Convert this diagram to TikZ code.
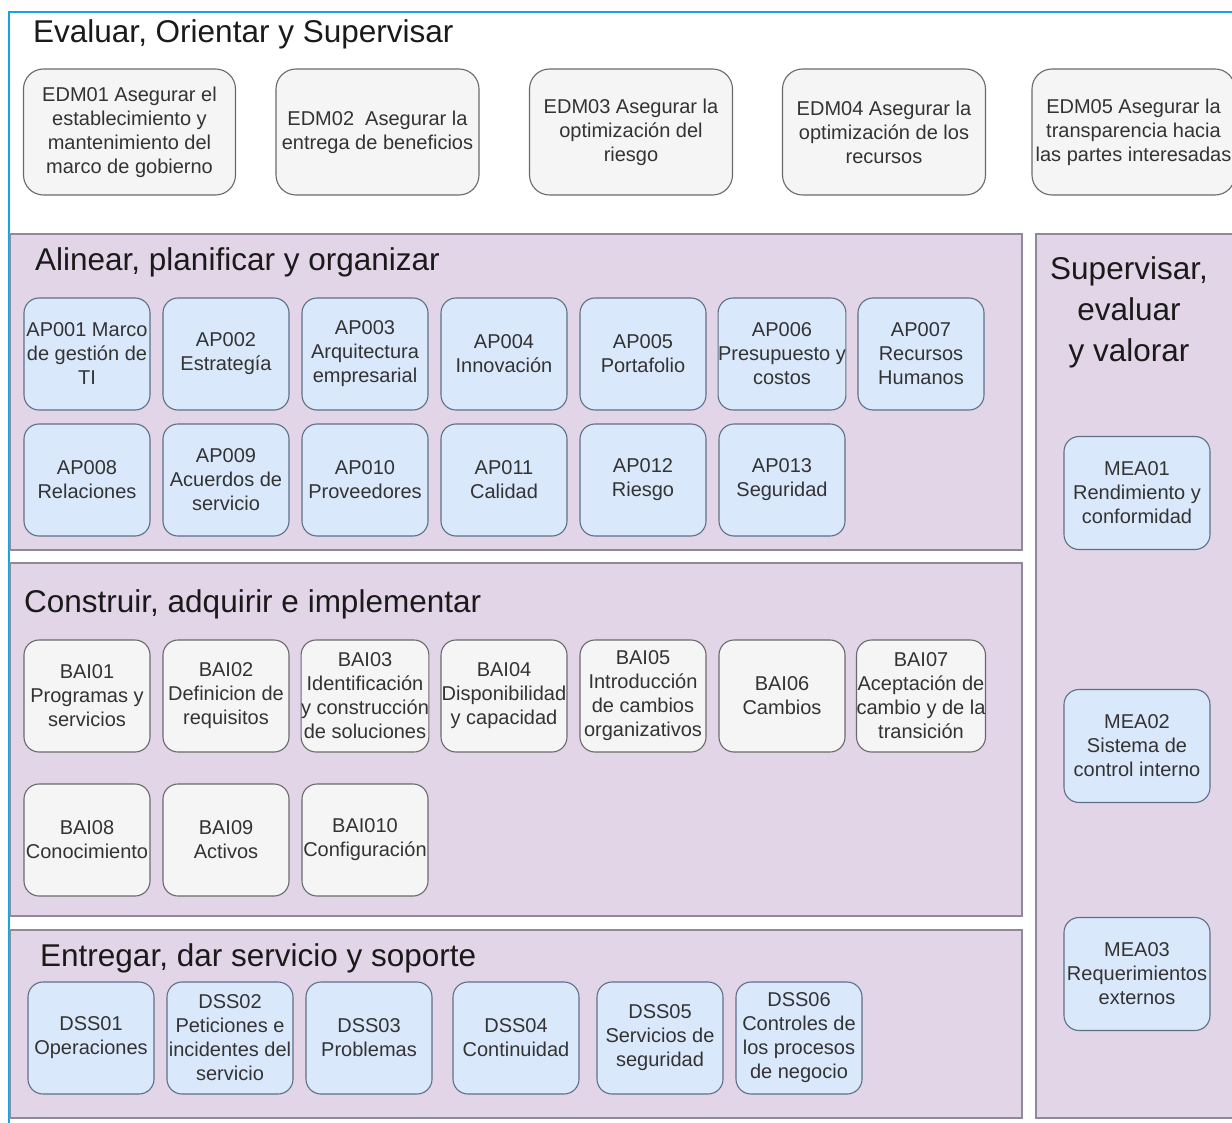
\documentclass[tikz,border=0pt]{standalone}
\usepackage{fontspec}
\setmainfont{Liberation Sans}
\usepackage{tikz}
\usetikzlibrary{positioning}
\usepackage{xcolor}

\definecolor{grisfondo}{HTML}{F5F5F5}
\definecolor{grisborde}{HTML}{6A6A6A}
\definecolor{azulfondo}{HTML}{DAE8FC}
\definecolor{azulborde}{HTML}{5F6F86}
\definecolor{lila}{HTML}{E1D5E7}
\definecolor{seccborde}{HTML}{8E8A96}
\definecolor{textogris}{HTML}{333333}
\definecolor{titulonegro}{HTML}{1A1A1A}
\definecolor{marcoazul}{HTML}{1BA1E2}

\tikzset{
  caja/.style={draw, rounded corners=15pt, align=center, inner sep=0pt, text=textogris, line width=1.1pt, font=\fontsize{20}{24}\selectfont},
  cajagris/.style={caja, fill=grisfondo, draw=grisborde},
  cajaazul/.style={caja, fill=azulfondo, draw=azulborde},
  edm/.style={cajagris, minimum width=203pt, minimum height=126pt, rounded corners=20pt},
  proc/.style={minimum width=126pt, minimum height=112pt},
  mea/.style={cajaazul, minimum width=146pt, minimum height=113pt},
  seccion/.style={draw=seccborde, fill=lila, line width=1.2pt},
  titulo/.style={anchor=base west, inner sep=0pt, font=\fontsize{31.5}{41}\selectfont, text=titulonegro},
}

\begin{document}
\begin{tikzpicture}[x=1pt,y=-1pt]
            \clip (0,0) rectangle (1232,1123);
            \fill[white] (0,0) rectangle (1232,1123);
            \draw[marcoazul, line width=2pt] (9,1123) -- (9,12) -- (1232,12);

            % Evaluar, orientar y supervisar
            \node[titulo](tedm) at (33,43){Evaluar, Orientar y Supervisar};
            \node[edm, minimum width=212pt](edm01) at (129.5,132){EDM01 Asegurar el\\establecimiento y\\mantenimiento del\\marco de gobierno};
            \node[edm](edm02) at (377.5,132){EDM02\ \ Asegurar la\\entrega de beneficios};
            \node[edm](edm03) at (631,132){EDM03 Asegurar la\\optimización del\\riesgo};
            \node[edm](edm04) at (884,132){EDM04 Asegurar la\\optimización de los\\recursos};
            \node[edm](edm05) at (1133.5,132){EDM05 Asegurar la\\transparencia hacia\\las partes interesadas};

            % secciones
            \draw[seccion] (10,234) rectangle (1022,550);
            \draw[seccion] (10,563) rectangle (1022,916);
            \draw[seccion] (10,930) rectangle (1022,1118);
            \draw[seccion] (1036,234) rectangle (1240,1118);

            % Alinear, planificar y organizar
            \node[titulo](tapo) at (35,271){Alinear, planificar y organizar};
            \node[cajaazul, proc](ap001) at (87,354){AP001 Marco\\de gestión de\\TI};
            \node[cajaazul, proc](ap002) at (226,354){AP002\\Estrategía};
            \node[cajaazul, proc](ap003) at (365,354){AP003\\Arquitectura\\empresarial};
            \node[cajaazul, proc](ap004) at (504,354){AP004\\Innovación};
            \node[cajaazul, proc](ap005) at (643,354){AP005\\Portafolio};
            \node[cajaazul, proc](ap006) at (782,354){AP006\\Presupuesto y\\costos};
            \node[cajaazul, proc](ap007) at (921,354){AP007\\Recursos\\Humanos};
            \node[cajaazul, proc](ap008) at (87,480){AP008\\Relaciones};
            \node[cajaazul, proc](ap009) at (226,480){AP009\\Acuerdos de\\servicio};
            \node[cajaazul, proc](ap010) at (365,480){AP010\\Proveedores};
            \node[cajaazul, proc](ap011) at (504,480){AP011\\Calidad};
            \node[cajaazul, proc](ap012) at (643,480){AP012\\Riesgo};
            \node[cajaazul, proc](ap013) at (782,480){AP013\\Seguridad};

            % Construir, adquirir e implementar
            \node[titulo](tbai) at (24,612){Construir, adquirir e implementar};
            \node[cajagris, proc](bai01) at (87,696){BAI01\\Programas y\\servicios};
            \node[cajagris, proc](bai02) at (226,696){BAI02\\Definicion de\\requisitos};
            \node[cajagris, proc](bai03) at (365,696){BAI03\\Identificación\\y construcción\\de soluciones};
            \node[cajagris, proc](bai04) at (504,696){BAI04\\Disponibilidad\\y capacidad};
            \node[cajagris, proc](bai05) at (643,696){BAI05\\Introducción\\de cambios\\organizativos};
            \node[cajagris, proc](bai06) at (782,696){BAI06\\Cambios};
            \node[cajagris, proc](bai07) at (921,696){BAI07\\Aceptación de\\cambio y de la\\transición};
            \node[cajagris, proc](bai08) at (87,840){BAI08\\Conocimiento};
            \node[cajagris, proc](bai09) at (226,840){BAI09\\Activos};
            \node[cajagris, proc](bai010) at (365,840){BAI010\\Configuración};

            % Entregar, dar servicio y soporte
            \node[titulo](tdss) at (40,966){Entregar, dar servicio y soporte};
            \node[cajaazul, proc](dss01) at (91,1038){DSS01\\Operaciones};
            \node[cajaazul, proc](dss02) at (230,1038){DSS02\\Peticiones e\\incidentes del\\servicio};
            \node[cajaazul, proc](dss03) at (369,1038){DSS03\\Problemas};
            \node[cajaazul, proc](dss04) at (516,1038){DSS04\\Continuidad};
            \node[cajaazul, proc](dss05) at (660,1038){DSS05\\Servicios de\\seguridad};
            \node[cajaazul, proc](dss06) at (799,1038){DSS06\\Controles de\\los procesos\\de negocio};

            % Supervisar, evaluar y valorar
            \node[titulo, anchor=north, align=center](tmea) at (1129,256){Supervisar,\\evaluar\\y valorar};
            \node[mea](mea01) at (1137,493){MEA01\\Rendimiento y\\conformidad};
            \node[mea](mea02) at (1137,746){MEA02\\Sistema de\\control interno};
            \node[mea](mea03) at (1137,974){MEA03\\Requerimientos\\externos};
\end{tikzpicture}
\end{document}
